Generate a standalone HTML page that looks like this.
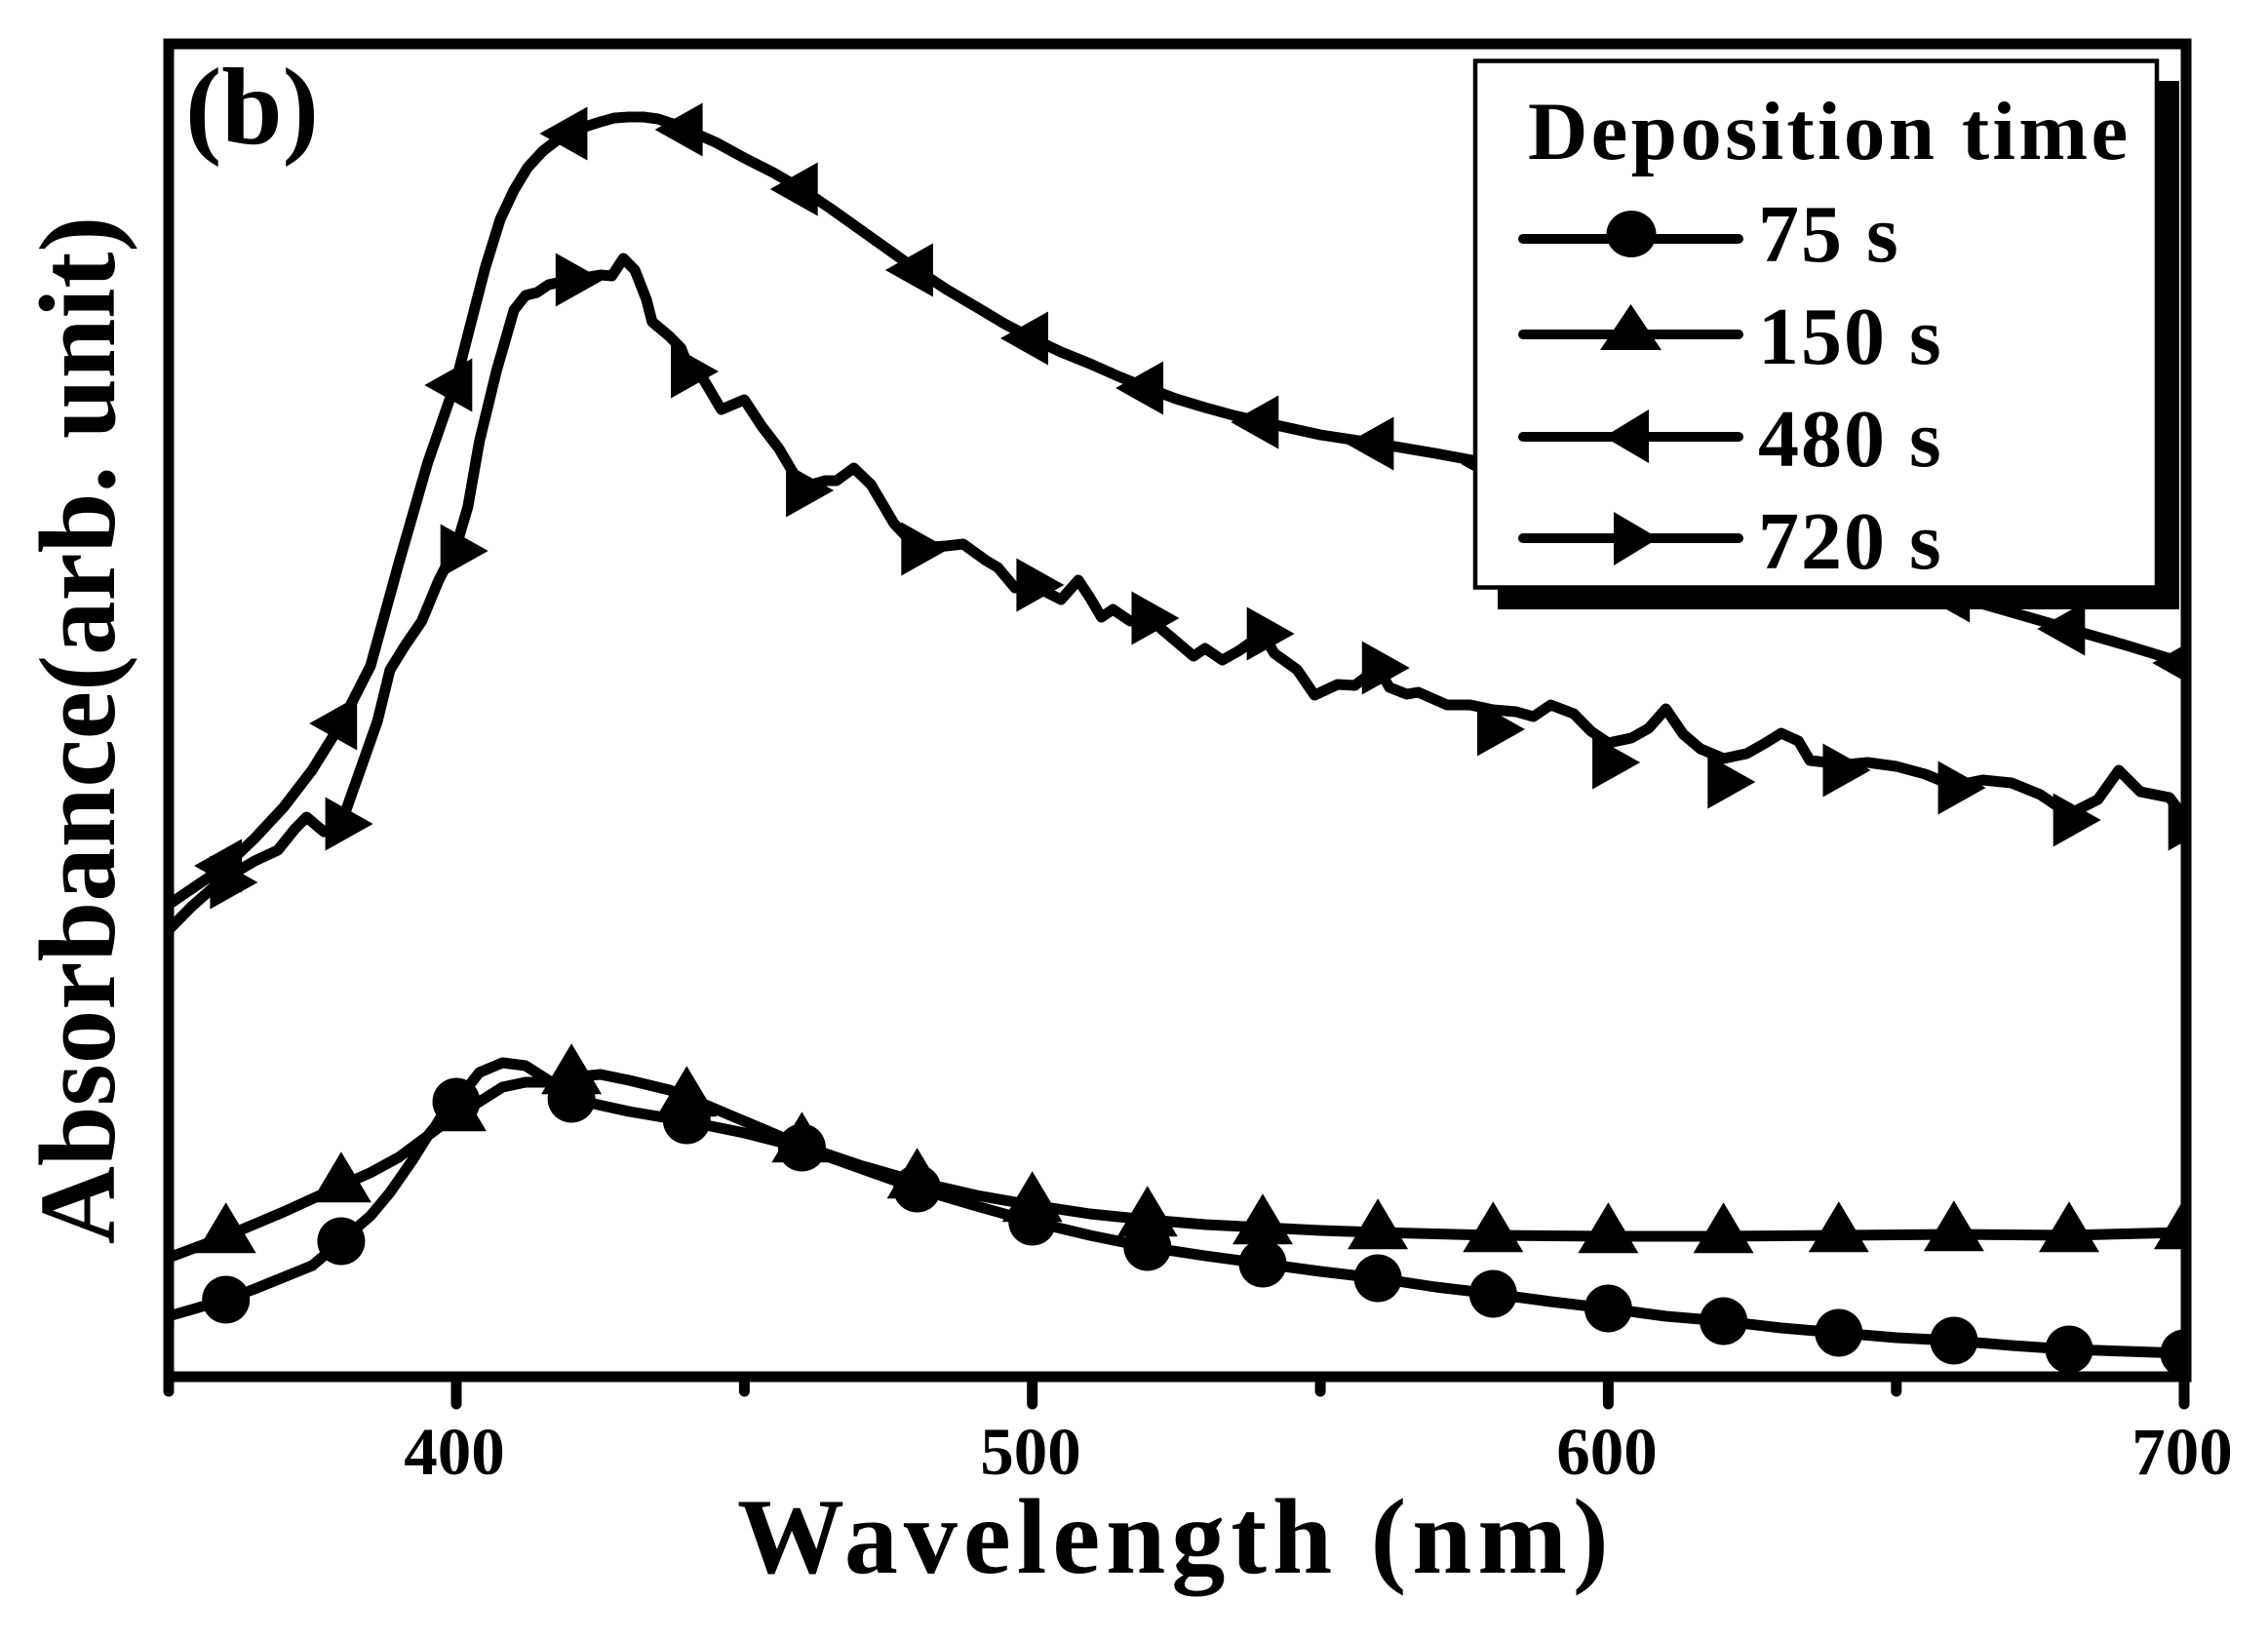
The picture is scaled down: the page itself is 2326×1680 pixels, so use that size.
<!DOCTYPE html>
<html>
<head>
<meta charset="utf-8">
<style>
html,body{margin:0;padding:0;background:#fff;}
svg{display:block;}
text{font-family:"Liberation Serif","Times New Roman",serif;font-weight:bold;fill:#000;}
</style>
</head>
<body>
<svg width="2326" height="1680" viewBox="0 0 2326 1680" xmlns="http://www.w3.org/2000/svg">
<defs>
<clipPath id="plot"><rect x="173" y="45" width="2069" height="1367"/></clipPath>
<path id="tu" d="M-31,17.3 L31,17.3 L0,-34.7 Z"/>
<path id="tr" d="M-16.3,-27.5 L-16.3,27.5 L32.7,0 Z"/>
<path id="tl" d="M16.3,-27.5 L16.3,27.5 L-32.7,0 Z"/>
<circle id="ci" cx="0" cy="0" r="24.5"/>
</defs>
<rect x="0" y="0" width="2326" height="1680" fill="#fff"/>

<g clip-path="url(#plot)" fill="none" stroke="#000" stroke-width="11" stroke-linejoin="round" stroke-linecap="round">
<!-- 480 s -->
<polyline points="172.7,928 202,908 231.7,888 261,860 290.8,828 320,790 349.9,742 380,683 408.9,578 438.5,475 468,390 482,335 497.5,275 513,225 527.1,195 541,172 556.6,155 571,144 586.1,137 600,130 615.7,125 630,121 645.2,120 660,120 674.7,122 690,127 704.3,133 734,146 763.4,162 793,177 822.4,194 852,214 881.5,235 911,256 940.6,277 971,297 1001.6,315 1030,332 1058.7,347 1088,361 1117.8,373 1147,386 1176.8,398 1206,409 1235.9,418 1265,426 1295,433 1354.1,446 1413.1,455 1472.2,465 1531.3,476 1590,490 1649.4,505 1708,522 1767.6,540 1826,557 1885.8,575 1944,593 2003.9,611 2063,628 2122,645 2181,662 2240,680"/>
<!-- 720 s -->
<polyline points="172.7,954 196.3,930 225.8,904 261.2,883 284.9,872 302.6,850 314.4,838 332.1,853 349.9,845 367.6,795 387,740 400,687 414.8,663 432.6,637 450,595 468,560 479.8,520 491.6,453 509.3,380 527.1,318 538.9,303 550.7,300 562.5,292 586.1,287 615.7,282 627.5,283 639.3,265 651.1,277 662.9,307 668.8,330 686.6,345 698.4,357 704.3,372 722,390 739.7,420 763.4,410 781.1,437 798.8,460 810.6,480 822.4,500 846,493 857.9,493 875.6,480 893.3,497 899.2,507 916.9,537 940.6,562 970.1,560 987.8,558 1011.4,575 1023.3,582 1041,603 1058.7,600 1088.2,615 1105.9,595 1117.8,613 1129.6,633 1141.4,625 1159.1,637 1176.8,633 1200.5,653 1212.3,663 1224.1,673 1235.9,665 1253.6,677 1271.4,667 1295,650 1306.8,670 1330.4,687 1348.2,713 1371.8,702 1389.5,703 1413.1,685 1425,705 1442.7,712 1454.5,710 1484,723 1507.6,723 1531.3,728 1554.9,730 1572.6,735 1590.3,723 1614,732 1631.7,750 1649.4,762 1673,757 1690.8,747 1708.5,727 1726.2,753 1743.9,768 1767.6,778 1791.2,773 1809,763 1826.7,752 1844.4,760 1856.2,780 1873.9,782 1885.8,785 1915.3,782 1944.8,786 1974.4,794 2003.9,806 2033.4,800 2063,803 2092.5,815 2122,835 2151.6,820 2173,790 2195,812 2225,818 2240,838"/>
<!-- 150 s -->
<polyline points="172.7,1290 231.7,1268 290.8,1243 349.9,1216 379.4,1203 408.9,1187 438.5,1165 468,1143 491.6,1130 515.3,1115 538.9,1110 562.5,1110 586.1,1105 615.7,1102 645.2,1108 686.6,1118 704.3,1125 763.4,1150 822.4,1175 881.5,1195 940.6,1212 1001.6,1226 1058.7,1236 1117.8,1245 1176.8,1251 1235.9,1256 1295,1259 1354.1,1262 1413.1,1264 1531.3,1267 1649.4,1268 1767.6,1268 1885.8,1267 2003.9,1266 2122,1267 2240,1264"/>
<!-- 75 s -->
<polyline points="172.7,1350 231.7,1333 261.2,1322 290.8,1310 320.3,1298 349.9,1273 380,1247 400,1223 423,1190 440,1163 468,1130 491.6,1100 515.3,1090 538.9,1093 562.5,1108 586.1,1127 645.2,1140 704.3,1150 763.4,1162 822.4,1177 881.5,1198 940.6,1219 1001.6,1237 1058.7,1253 1117.8,1267 1176.8,1279 1235.9,1288 1295,1296 1354.1,1304 1413.1,1311 1472.2,1320 1531.3,1327 1590.3,1335 1649.4,1342 1708.5,1350 1767.6,1355 1826.7,1362 1885.8,1367 1944.8,1372 2003.9,1375 2063,1380 2122,1384 2181.1,1386 2240,1388"/>
</g>

<g clip-path="url(#plot)" fill="#000">
<!-- 480 s markers -->
<use href="#tl" x="231.7" y="888"/>
<use href="#tl" x="349.9" y="742"/>
<use href="#tl" x="468" y="395"/>
<use href="#tl" x="586.1" y="137"/>
<use href="#tl" x="704.3" y="133"/>
<use href="#tl" x="822.4" y="194"/>
<use href="#tl" x="940.6" y="277"/>
<use href="#tl" x="1058.7" y="347"/>
<use href="#tl" x="1176.8" y="398"/>
<use href="#tl" x="1295" y="433"/>
<use href="#tl" x="1413.1" y="455"/>
<use href="#tl" x="1531.3" y="476"/>
<use href="#tl" x="1649.4" y="505"/>
<use href="#tl" x="1767.6" y="540"/>
<use href="#tl" x="1885.8" y="575"/>
<use href="#tl" x="2003.9" y="611"/>
<use href="#tl" x="2122" y="645"/>
<use href="#tl" x="2240" y="680"/>
<!-- 720 s markers -->
<use href="#tr" x="231.7" y="905"/>
<use href="#tr" x="349.9" y="845"/>
<use href="#tr" x="468" y="565"/>
<use href="#tr" x="586.1" y="287"/>
<use href="#tr" x="704.3" y="381"/>
<use href="#tr" x="822.4" y="503"/>
<use href="#tr" x="940.6" y="563"/>
<use href="#tr" x="1058.7" y="600"/>
<use href="#tr" x="1176.8" y="634"/>
<use href="#tr" x="1295" y="650"/>
<use href="#tr" x="1413.1" y="685"/>
<use href="#tr" x="1531.3" y="748"/>
<use href="#tr" x="1649.4" y="782"/>
<use href="#tr" x="1767.6" y="802"/>
<use href="#tr" x="1885.8" y="790"/>
<use href="#tr" x="2003.9" y="808"/>
<use href="#tr" x="2122" y="841"/>
<use href="#tr" x="2240" y="845"/>
<!-- 150 s markers -->
<use href="#tu" x="231.7" y="1268"/>
<use href="#tu" x="349.9" y="1216"/>
<use href="#tu" x="468" y="1143"/>
<use href="#tu" x="586.1" y="1105"/>
<use href="#tu" x="704.3" y="1128"/>
<use href="#tu" x="822.4" y="1175"/>
<use href="#tu" x="940.6" y="1212"/>
<use href="#tu" x="1058.7" y="1236"/>
<use href="#tu" x="1176.8" y="1251"/>
<use href="#tu" x="1295" y="1259"/>
<use href="#tu" x="1413.1" y="1264"/>
<use href="#tu" x="1531.3" y="1267"/>
<use href="#tu" x="1649.4" y="1268"/>
<use href="#tu" x="1767.6" y="1268"/>
<use href="#tu" x="1885.8" y="1267"/>
<use href="#tu" x="2003.9" y="1266"/>
<use href="#tu" x="2122" y="1267"/>
<use href="#tu" x="2240" y="1264"/>
<!-- 75 s markers -->
<use href="#ci" x="231.7" y="1333"/>
<use href="#ci" x="349.9" y="1273"/>
<use href="#ci" x="468" y="1130"/>
<use href="#ci" x="586.1" y="1127"/>
<use href="#ci" x="704.3" y="1149"/>
<use href="#ci" x="822.4" y="1177"/>
<use href="#ci" x="940.6" y="1219"/>
<use href="#ci" x="1058.7" y="1253"/>
<use href="#ci" x="1176.8" y="1279"/>
<use href="#ci" x="1295" y="1296"/>
<use href="#ci" x="1413.1" y="1311"/>
<use href="#ci" x="1531.3" y="1327"/>
<use href="#ci" x="1649.4" y="1342"/>
<use href="#ci" x="1767.6" y="1355"/>
<use href="#ci" x="1885.8" y="1367"/>
<use href="#ci" x="2003.9" y="1375"/>
<use href="#ci" x="2122" y="1384"/>
<use href="#ci" x="2240" y="1388"/>
</g>

<!-- Legend -->
<rect x="1536" y="83" width="699" height="542" fill="#000"/>
<rect x="1513" y="62.5" width="699" height="540" fill="#fff" stroke="#000" stroke-width="4.5"/>
<text x="1567" y="163" font-size="85" letter-spacing="3.3">Deposition time</text>
<g stroke="#000" stroke-width="10" stroke-linecap="round">
<line x1="1562" y1="245" x2="1783" y2="245"/>
<line x1="1562" y1="343" x2="1783" y2="343"/>
<line x1="1562" y1="448" x2="1783" y2="448"/>
<line x1="1562" y1="552" x2="1783" y2="552"/>
</g>
<ellipse cx="1673" cy="240" rx="25.5" ry="24" fill="#000"/>
<path d="M1641,359 L1704,359 L1672.5,312 Z" fill="#000"/>
<path d="M1645,448 L1691,420 L1691,475 Z" fill="#000"/>
<path d="M1701,552 L1655,525 L1655,580 Z" fill="#000"/>
<text x="1803" y="268" font-size="84" letter-spacing="2">75 s</text>
<text x="1803" y="373" font-size="84" letter-spacing="2">150 s</text>
<text x="1803" y="478" font-size="84" letter-spacing="2">480 s</text>
<text x="1803" y="583" font-size="84" letter-spacing="2">720 s</text>

<!-- Frame -->
<rect x="173" y="45" width="2069" height="1367" fill="none" stroke="#000" stroke-width="11"/>
<g stroke="#000" stroke-width="11" stroke-linecap="round">
<line x1="468" y1="1412" x2="468" y2="1440"/>
<line x1="1058.7" y1="1412" x2="1058.7" y2="1440"/>
<line x1="1649.4" y1="1412" x2="1649.4" y2="1440"/>
<line x1="2240" y1="1412" x2="2240" y2="1440"/>
<line x1="173" y1="1412" x2="173" y2="1427"/>
<line x1="763.4" y1="1412" x2="763.4" y2="1427"/>
<line x1="1354.1" y1="1412" x2="1354.1" y2="1427"/>
<line x1="1944.8" y1="1412" x2="1944.8" y2="1427"/>
</g>

<!-- Tick labels -->
<g font-size="69" text-anchor="middle">
<text x="466" y="1512">400</text>
<text x="1057" y="1512">500</text>
<text x="1648" y="1512">600</text>
<text x="2238" y="1512">700</text>
</g>

<!-- Axis titles -->
<text x="756" y="1613" font-size="110" letter-spacing="6">Wavelength (nm)</text>
<text transform="translate(117,749) rotate(-90)" text-anchor="middle" font-size="111">Absorbance(arb. unit)</text>

<!-- Panel label -->
<text x="190" y="147" font-size="112">(b)</text>
</svg>
</body>
</html>
